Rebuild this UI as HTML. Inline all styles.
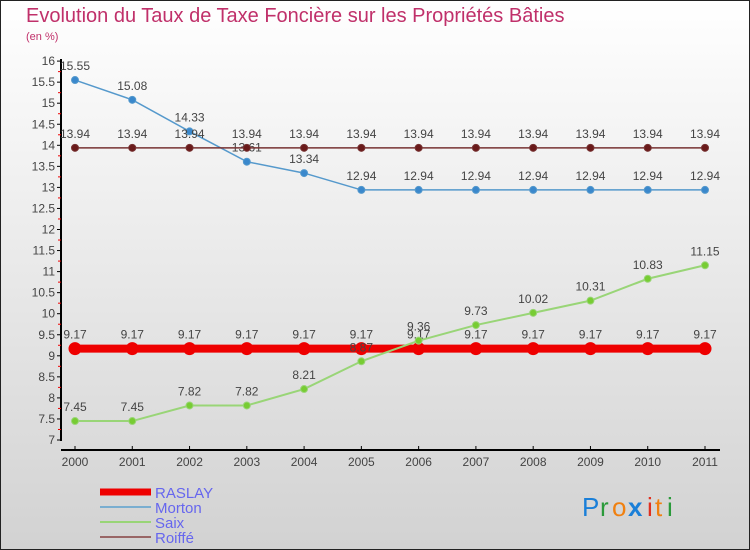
<!DOCTYPE html>
<html><head><meta charset="utf-8"><style>
body{margin:0}
#c{width:750px;height:550px;position:relative;overflow:hidden;font-family:"Liberation Sans",sans-serif}
svg text{font-family:"Liberation Sans",sans-serif}
</style></head><body>
<div id="c">
<svg id="s" width="750" height="550" xmlns="http://www.w3.org/2000/svg">
<defs><linearGradient id="bg" x1="0" y1="0" x2="0" y2="1"><stop offset="0" stop-color="#ffffff"/><stop offset="1" stop-color="#d2d2d2"/></linearGradient></defs>
<rect x="0.5" y="0.5" width="749" height="549" fill="url(#bg)" stroke="#222"/>
<text x="26" y="22" font-size="20" fill="#c0306a">Evolution du Taux de Taxe Foncière sur les Propriétés Bâties</text>
<text x="26" y="40" font-size="11" fill="#c0306a">(en %)</text>
<g id="axes"></g><g id="series"></g><g id="legend"></g>
<g font-size="26">
<text x="582" y="516" fill="#1a7fd8">P</text><text x="600" y="516" fill="#2a9a3a">r</text><text x="612" y="516" fill="#f08010">o</text><text x="628" y="516" fill="#1a7fd8" font-weight="bold">x</text><text x="647" y="516" fill="#e03020">i</text><text x="655" y="516" fill="#f08010">t</text><text x="667" y="516" fill="#2a9a3a">i</text>
</g>
</svg>
</div>
<script>
const years=["2000","2001","2002","2003","2004","2005","2006","2007","2008","2009","2010","2011"];
const raslay=[9.17,9.17,9.17,9.17,9.17,9.17,9.17,9.17,9.17,9.17,9.17,9.17];
const morton=[15.55,15.08,14.33,13.61,13.34,12.94,12.94,12.94,12.94,12.94,12.94,12.94];
const saix=[7.45,7.45,7.82,7.82,8.21,8.87,9.36,9.73,10.02,10.31,10.83,11.15];
const roiffe=[13.94,13.94,13.94,13.94,13.94,13.94,13.94,13.94,13.94,13.94,13.94,13.94];
const yTicks=[7,7.5,8,8.5,9,9.5,10,10.5,11,11.5,12,12.5,13,13.5,14,14.5,15,15.5,16];
const NS="http://www.w3.org/2000/svg";
const X=i=>75+i*(630/11);
const Y=v=>440-(v-7)*42.1;
function mk(t,a,p){const e=document.createElementNS(NS,t);for(const k in a)e.setAttribute(k,a[k]);p.appendChild(e);return e;}
const ax=document.getElementById('axes');
let l=mk('line',{x1:61,y1:59,x2:61,y2:441,stroke:'#000','stroke-width':2},ax);


l=mk('line',{x1:61,y1:450,x2:720,y2:450,stroke:'#000','stroke-width':2},ax);


yTicks.forEach(v=>{const y=Y(v);mk('line',{x1:57,y1:y,x2:61,y2:y,stroke:'#000'},ax);
const t=mk('text',{x:55,y:y+4,'text-anchor':'end','font-size':12,fill:'#444'},ax);t.textContent=String(v);


if(v<16){mk('line',{x1:58,y1:Y(v+0.25),x2:61,y2:Y(v+0.25),stroke:'#e00'},ax);}});
years.forEach((yr,i)=>{const x=X(i);mk('line',{x1:x,y1:446,x2:x,y2:450,stroke:'#000'},ax);
const t=mk('text',{x:x,y:466,'text-anchor':'middle','font-size':12,fill:'#444'},ax);t.textContent=yr;

});
const sg=document.getElementById('series');
function series(name,data,color,w,r,fill){const g=mk('g',{},sg);


mk('polyline',{points:data.map((v,i)=>X(i)+','+Y(v)).join(' '),fill:'none',stroke:color,'stroke-width':w},g);
data.forEach((v,i)=>{const c=mk('circle',{cx:X(i),cy:Y(v),r:r,fill:fill,stroke:color,'stroke-width':1},g);


const t=mk('text',{x:X(i),y:Y(v)-10,'text-anchor':'middle','font-size':12,fill:'#444'},g);t.textContent=String(v);

});}
series('raslay',raslay,'#ee0000',8,6,'#ee0000');
series('morton',morton,'#5599cc',1.5,3.5,'#3a88cc');
series('saix',saix,'#99d577',2,3.5,'#77cc33');
series('roiffe',roiffe,'#773333',1.5,3.5,'#6a1a1a');
const lg=document.getElementById('legend');
const items=[['RASLAY','#ee0000',7],['Morton','#7aaed0',2],['Saix','#99d577',2],['Roiffé','#996666',2]];
items.forEach((it,k)=>{const y=493+k*15;
const g=mk('g',{},lg);


mk('line',{x1:100,y1:y-1,x2:151,y2:y-1,stroke:it[1],'stroke-width':it[2]},g);
const t=mk('text',{x:155,y:y+5,'font-size':15,fill:'#6666ee'},g);t.textContent=it[0];});
</script>
</body></html>
